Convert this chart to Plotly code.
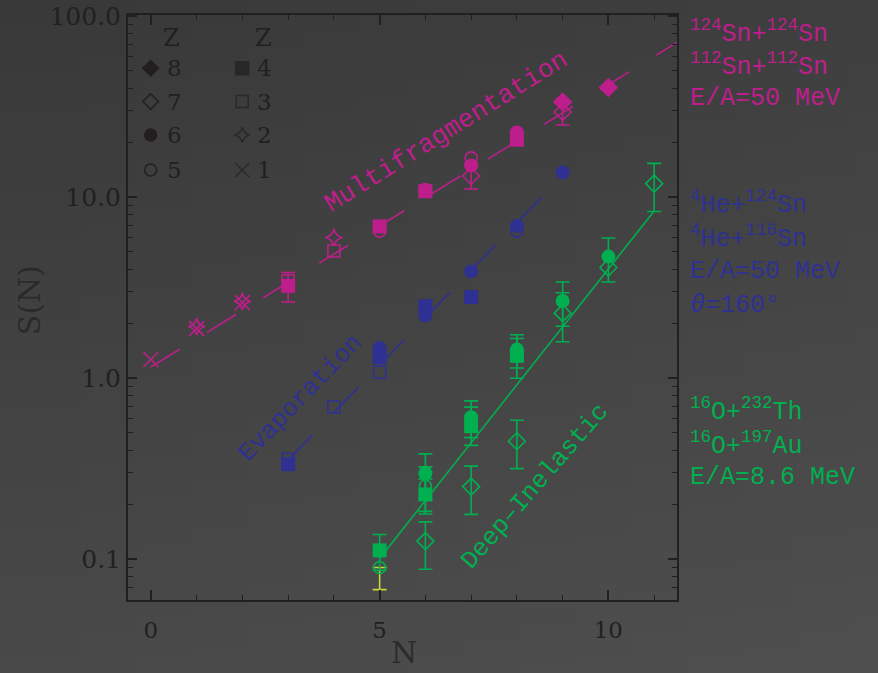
import base64, struct, zlib
import plotly.graph_objects as go

# ---------------- colours ----------------
MAG = "#be1e8c"
BLU = "#2e3192"
GRN = "#00b050"
YEL = "#c5d63a"
INK = "#231f20"

# ---------------- data: 124Sn+124Sn / 112Sn+112Sn, E/A=50 MeV ----------------
sn_z1_n = [0, 1, 2];          sn_z1_s = [1.27, 1.88, 2.62]
sn_z2_n = [1, 2, 4];          sn_z2_s = [1.93, 2.66, 6.0]
sn_z3_n = [3, 4];             sn_z3_s = [3.45, 5.05]
sn_z4_n = [3, 5, 6, 8];       sn_z4_s = [3.24, 6.9, 10.8, 20.8]
sn_z4_ep = [0.6, 0, 0, 0];    sn_z4_em = [0.6, 0, 0, 0]
sn_z5_n = [5, 7];             sn_z5_s = [6.5, 16.5]
sn_z6_n = [6, 7, 8];          sn_z6_s = [11.0, 15.0, 22.8]
sn_z7_n = [7, 9];             sn_z7_s = [13.1, 29.6]
sn_z7_ep = [2.0, 4.5];        sn_z7_em = [2.0, 4.5]
sn_z8_n = [9, 10];            sn_z8_s = [33.6, 40.4]

# ---------------- data: 4He+124Sn / 4He+116Sn, E/A=50 MeV ----------------
he_z3_n = [3, 4, 5];          he_z3_s = [0.357, 0.694, 1.08]
he_z4_n = [3, 5, 6, 7];       he_z4_s = [0.335, 1.31, 2.5, 2.81]
he_z5_n = [8];                he_z5_s = [6.5]
he_z6_n = [5, 6, 7, 8, 9];    he_z6_s = [1.47, 2.22, 3.89, 6.94, 13.7]

# ---------------- data: 16O+232Th / 16O+197Au, E/A=8.6 MeV ----------------
ox_z4_n = [5, 6, 7, 8];       ox_z4_s = [0.112, 0.228, 0.543, 1.33]
ox_z4_ep = [0.025, 0.05, 0.15, 0.33]
ox_z4_em = [0.025, 0.05, 0.117, 0.33]
ox_z5a_n = [5];               ox_z5a_s = [0.09]
ox_z5a_ep = [0.0];            ox_z5a_em = [0.022]
ox_z5b_n = [6];               ox_z5b_s = [0.254]
ox_z5b_ep = [0.07];           ox_z5b_em = [0.07]
ox_z6_n = [6, 7, 8, 9, 10];   ox_z6_s = [0.299, 0.61, 1.44, 2.67, 4.70]
ox_z6_ep = [0.083, 0.14, 0.3, 0.73, 1.26]
ox_z6_em = [0.083, 0.14, 0.3, 0.73, 1.30]
ox_z7_n = [6, 7, 8, 9, 10, 11]
ox_z7_s = [0.126, 0.252, 0.449, 2.29, 4.09, 11.9]
ox_z7_ep = [0.035, 0.075, 0.137, 0.68, 0, 3.5]
ox_z7_em = [0.038, 0.075, 0.132, 0.70, 0, 3.56]

# ---------------- fitted trend lines: log10 S = a + b*N over [n0, n1] ----------------
fit_sn = [0.062, 0.156, 0.0, 11.7]
fit_he = [-1.238, 0.262, 3.0, 9.0]
fit_ox = [-2.596, 0.32, 5.0, 11.0]

# ---------------- tick labels ----------------
x_tickvals = [0, 5, 10];              x_ticktext = ["0", "5", "10"]
y_tickvals = [0.1, 1, 10, 100];       y_ticktext = ["0.1", "1.0", "10.0", "100.0"]

# ---------------- legend ----------------
leg_labels_1 = ["8", "7", "6", "5"]
leg_symbols_1 = ["diamond", "diamond-open", "circle", "circle-open"]
leg_labels_2 = ["4", "3", "2", "1"]
leg_symbols_2 = ["square", "square-open", "star-diamond-open", "x-thin-open"]

# ---------------- reaction labels ----------------
sn_labels = ["<sup>124</sup>Sn+<sup>124</sup>Sn", "<sup>112</sup>Sn+<sup>112</sup>Sn", "E/A=50 MeV"]
he_labels = ["<sup>4</sup>He+<sup>124</sup>Sn", "<sup>4</sup>He+<sup>116</sup>Sn", "E/A=50 MeV", "<i>θ</i>=160°"]
ox_labels = ["<sup>16</sup>O+<sup>232</sup>Th", "<sup>16</sup>O+<sup>197</sup>Au", "E/A=8.6 MeV"]

fig = go.Figure()


def add_line(fit, color, dash):
    a, b, n0, n1 = fit
    xs = [n0, n1]
    ys = [10 ** (a + b * v) for v in xs]
    fig.add_trace(go.Scatter(x=xs, y=ys, mode="lines",
                             line=dict(color=color, width=1.6, dash=dash),
                             showlegend=False, hoverinfo="skip"))


def add_pts(n, s, color, symbol, size, ep=None, em=None, ecolor=None):
    if ep is None:
        ep = [0] * len(n)
        em = [0] * len(n)
    open_sym = "open" in symbol
    marker = dict(symbol=symbol, size=size, color=color,
                  line=dict(color=color, width=1.6 if open_sym else 0))
    ie = [i for i in range(len(n)) if ep[i] or em[i]]
    ino = [i for i in range(len(n)) if not (ep[i] or em[i])]
    if ino:
        fig.add_trace(go.Scatter(x=[n[i] for i in ino], y=[s[i] for i in ino],
                                 mode="markers", marker=marker,
                                 showlegend=False, hoverinfo="skip"))
    if ie:
        fig.add_trace(go.Scatter(x=[n[i] for i in ie], y=[s[i] for i in ie],
                                 mode="markers", marker=marker,
                                 error_y=dict(type="data", symmetric=False,
                                              array=[ep[i] for i in ie],
                                              arrayminus=[em[i] for i in ie],
                                              color=ecolor or color, thickness=1.6, width=7),
                                 showlegend=False, hoverinfo="skip"))


# lines
add_line(fit_sn, MAG, "34px,32px")
add_line(fit_he, BLU, "35px,31px")
add_line(fit_ox, GRN, "solid")

# Sn + Sn
add_pts(sn_z1_n, sn_z1_s, MAG, "x-thin-open", 15)
add_pts(sn_z2_n, sn_z2_s, MAG, "star-diamond-open", 12)
add_pts(sn_z3_n, sn_z3_s, MAG, "square-open", 12)
add_pts(sn_z4_n, sn_z4_s, MAG, "square", 14, sn_z4_ep, sn_z4_em)
add_pts(sn_z5_n, sn_z5_s, MAG, "circle-open", 12)
add_pts(sn_z6_n, sn_z6_s, MAG, "circle", 14)
add_pts(sn_z7_n, sn_z7_s, MAG, "diamond-open", 13, sn_z7_ep, sn_z7_em)
add_pts(sn_z8_n, sn_z8_s, MAG, "diamond", 15)

# He + Sn
add_pts(he_z3_n, he_z3_s, BLU, "square-open", 12)
add_pts(he_z4_n, he_z4_s, BLU, "square", 14)
add_pts(he_z5_n, he_z5_s, BLU, "circle-open", 12)
add_pts(he_z6_n, he_z6_s, BLU, "circle", 14)

# O + Th / Au
add_pts(ox_z5a_n, ox_z5a_s, GRN, "circle-open", 12, ox_z5a_ep, ox_z5a_em, YEL)
add_pts(ox_z5b_n, ox_z5b_s, GRN, "circle-open", 12, ox_z5b_ep, ox_z5b_em)
add_pts(ox_z7_n, ox_z7_s, GRN, "diamond-open", 13, ox_z7_ep, ox_z7_em)
add_pts(ox_z4_n, ox_z4_s, GRN, "square", 14, ox_z4_ep, ox_z4_em)
add_pts(ox_z6_n, ox_z6_s, GRN, "circle", 14, ox_z6_ep, ox_z6_em)

# legend keys on an overlay unit axis
leg_rows = [0.909, 0.852, 0.795, 0.735]
fig.add_trace(go.Scatter(x=[0.0413] * 4, y=leg_rows, xaxis="x2", yaxis="y2", mode="markers",
                         marker=dict(symbol=leg_symbols_1, size=12, color=INK,
                                     line=dict(color=INK, width=1.5)),
                         showlegend=False, hoverinfo="skip"))
fig.add_trace(go.Scatter(x=[0.208] * 4, y=leg_rows, xaxis="x2", yaxis="y2", mode="markers",
                         marker=dict(symbol=leg_symbols_2, size=[13, 12, 11, 14], color=INK,
                                     line=dict(color=INK, width=1.5)),
                         showlegend=False, hoverinfo="skip"))

annotations = []
SERIF = "DejaVu Serif"
MONO = "Liberation Mono"
for xx in (0.0801, 0.246):
    annotations.append(dict(x=xx, y=0.961, xref="paper", yref="paper", text="Z", showarrow=False,
                            font=dict(family=SERIF, size=24, color=INK), xanchor="center", yanchor="middle"))
for i, y in enumerate(leg_rows):
    annotations.append(dict(x=0.0674, y=y, xref="paper", yref="paper", text=leg_labels_1[i], showarrow=False,
                            font=dict(family=SERIF, size=23, color=INK), xanchor="left", yanchor="middle"))
    annotations.append(dict(x=0.231, y=y, xref="paper", yref="paper", text=leg_labels_2[i], showarrow=False,
                            font=dict(family=SERIF, size=23, color=INK), xanchor="left", yanchor="middle"))


# reaction labels at right
def add_block(lines, ys, color):
    for t, y in zip(lines, ys):
        annotations.append(dict(x=1.02, y=y, xref="paper", yref="paper", text=t, showarrow=False,
                                font=dict(family=MONO, size=25, color=color),
                                xanchor="left", yanchor="middle"))


add_block(sn_labels, [0.971, 0.915, 0.858], MAG)
add_block(he_labels, [0.679, 0.621, 0.562, 0.504], BLU)
add_block(ox_labels, [0.325, 0.267, 0.209], GRN)

# rotated process labels (data coordinates)
annotations.append(dict(x=6.46, y=1.36, xref="x", yref="y", text="Multifragmentation", textangle=-32,
                        showarrow=False, xanchor="center", yanchor="middle",
                        font=dict(family=MONO, size=26, color=MAG)))
annotations.append(dict(x=3.27, y=-0.11, xref="x", yref="y", text="Evaporation", textangle=-46,
                        showarrow=False, xanchor="center", yanchor="middle",
                        font=dict(family=MONO, size=25, color=BLU)))
annotations.append(dict(x=8.4, y=-0.597, xref="x", yref="y", text="Deep–Inelastic", textangle=-49,
                        showarrow=False, xanchor="center", yanchor="middle",
                        font=dict(family=MONO, size=25, color=GRN)))

# axis titles
annotations.append(dict(x=-0.178, y=0.513, xref="paper", yref="paper", text="S(N)", textangle=-90,
                        showarrow=False, xanchor="center", yanchor="middle",
                        font=dict(family=SERIF, size=30, color="#2a2a2a")))
annotations.append(dict(x=0.502, y=-0.089, xref="paper", yref="paper", text="N",
                        showarrow=False, xanchor="center", yanchor="middle",
                        font=dict(family=SERIF, size=30, color="#2a2a2a")))


# background gradient image
def gradient_png(w, h):
    rows = []
    for j in range(h):
        fy = j / (h - 1)
        row = bytearray([0])
        for i in range(w):
            fx = i / (w - 1)
            g = int(round(57 + 16 * fy + 6 * fx))
            row += bytes([g, g, g])
        rows.append(bytes(row))
    raw = b"".join(rows)

    def chunk(t, d):
        return struct.pack(">I", len(d)) + t + d + struct.pack(">I", zlib.crc32(t + d) & 0xffffffff)

    png = (b"\x89PNG\r\n\x1a\n" + chunk(b"IHDR", struct.pack(">IIBBBBB", w, h, 8, 2, 0, 0, 0))
           + chunk(b"IDAT", zlib.compress(raw)) + chunk(b"IEND", b""))
    return "data:image/png;base64," + base64.b64encode(png).decode()


L, R, T, B = 128, 201, 15, 73
PW, PH = 878 - L - R, 673 - T - B

axis_common = dict(showgrid=False, zeroline=False, showline=True, linecolor=INK, linewidth=2,
                   mirror="allticks", ticks="inside", tickcolor=INK, tickwidth=1.5,
                   automargin=False)

fig.update_layout(
    width=878, height=673,
    margin=dict(l=L, r=R, t=T, b=B, autoexpand=False),
    paper_bgcolor="#444444",
    plot_bgcolor="rgba(0,0,0,0)",
    showlegend=False,
    xaxis=dict(range=[-0.5, 11.5], tickvals=x_tickvals, ticktext=x_ticktext, ticklen=10,
               ticklabelstandoff=8, tickfont=dict(family=SERIF, size=23, color=INK),
               minor=dict(dtick=1, tick0=0, ticks="inside", ticklen=5, tickcolor=INK, tickwidth=1.2),
               **axis_common),
    yaxis=dict(type="log", range=[-1.225, 2.007], tickvals=y_tickvals, ticktext=y_ticktext, ticklen=9,
               tickfont=dict(family=SERIF, size=25, color=INK),
               minor=dict(dtick="D1", ticks="inside", ticklen=5, tickcolor=INK, tickwidth=1.2),
               **axis_common),
    xaxis2=dict(overlaying="x", range=[0, 1], visible=False),
    yaxis2=dict(overlaying="y", range=[0, 1], visible=False),
    annotations=annotations,
    images=[dict(source=gradient_png(16, 64), xref="paper", yref="paper",
                 x=-L / PW, y=1 + T / PH, sizex=878 / PW, sizey=673 / PH,
                 xanchor="left", yanchor="top", sizing="stretch", layer="below")],
)

fig.write_html("out.html", config={"displayModeBar": False},
               post_script="document.body.style.margin='0';document.body.style.overflow='hidden';")
